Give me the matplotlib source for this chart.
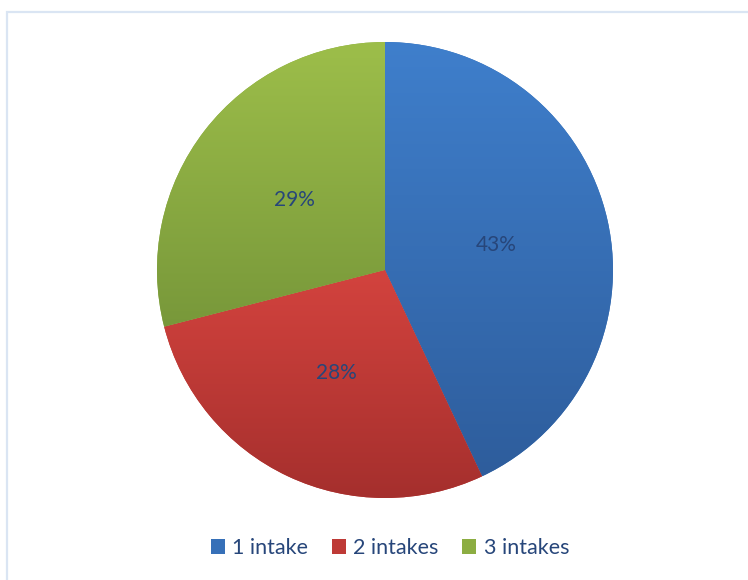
import numpy as np
import matplotlib
matplotlib.use("Agg")
import matplotlib.pyplot as plt
from matplotlib.patches import Patch, Rectangle
from matplotlib.colors import LinearSegmentedColormap

categories = ["1 intake", "2 intakes", "3 intakes"]
shares = [43, 28, 29]

# light (top) and dark (bottom) tones of each slice's vertical gradient
top_colors = ["#3f7fcc", "#d3433e", "#9dbe4a"]
bottom_colors = ["#2e5d9c", "#a52f2d", "#78983a"]
legend_colors = ["#3670b8", "#be3a36", "#8cad42"]
text_color = "#27467a"

W, H = 748, 580
fig = plt.figure(figsize=(W / 100, H / 100), dpi=100)
ax = fig.add_axes([0, 0, 1, 1])

cx, cy, r = 385, H - 270, 228
wedges, _, autotexts = ax.pie(
    shares, startangle=90, counterclock=False, center=(cx, cy), radius=r,
    autopct="%1.0f%%", pctdistance=0.5, colors=legend_colors,
    wedgeprops=dict(linewidth=0),
    textprops=dict(color=text_color, fontsize=15, family=["Lato", "DejaVu Sans"]),
)
ax.set_xlim(0, W)
ax.set_ylim(0, H)
ax.set_aspect("equal")
ax.axis("off")

# vertical gradient fill for each slice, clipped to the wedge shape
for w, c0, c1 in zip(wedges, top_colors, bottom_colors):
    ext = w.get_path().get_extents(w.get_patch_transform())
    cmap = LinearSegmentedColormap.from_list("g", [c1, c0])
    grad = np.linspace(0, 1, 256).reshape(-1, 1)
    im = ax.imshow(grad, cmap=cmap, origin="lower", aspect="auto",
                   extent=[ext.x0, ext.x1, ext.y0, ext.y1], zorder=1.5)
    im.set_clip_path(w)
for t in autotexts:
    t.set_zorder(3)

ax.set_xlim(0, W)
ax.set_ylim(0, H)

# chart area border
fig.patches.append(Rectangle((7 / W, -0.05), 1.2, (H - 12) / H + 0.05,
                             transform=fig.transFigure, fill=False,
                             edgecolor="#dae5f3", linewidth=1.6))

handles = [Patch(facecolor=c, edgecolor="none") for c in legend_colors]
fig.legend(handles, categories, loc="center", bbox_to_anchor=(390 / W, 1 - 548 / H),
           ncol=3, frameon=False, handlelength=0.65, handleheight=0.65,
           handletextpad=0.35, columnspacing=1.1,
           prop=dict(family=["Lato", "DejaVu Sans"], size=15.5), labelcolor=text_color)

fig.savefig("out.png", dpi=100)
